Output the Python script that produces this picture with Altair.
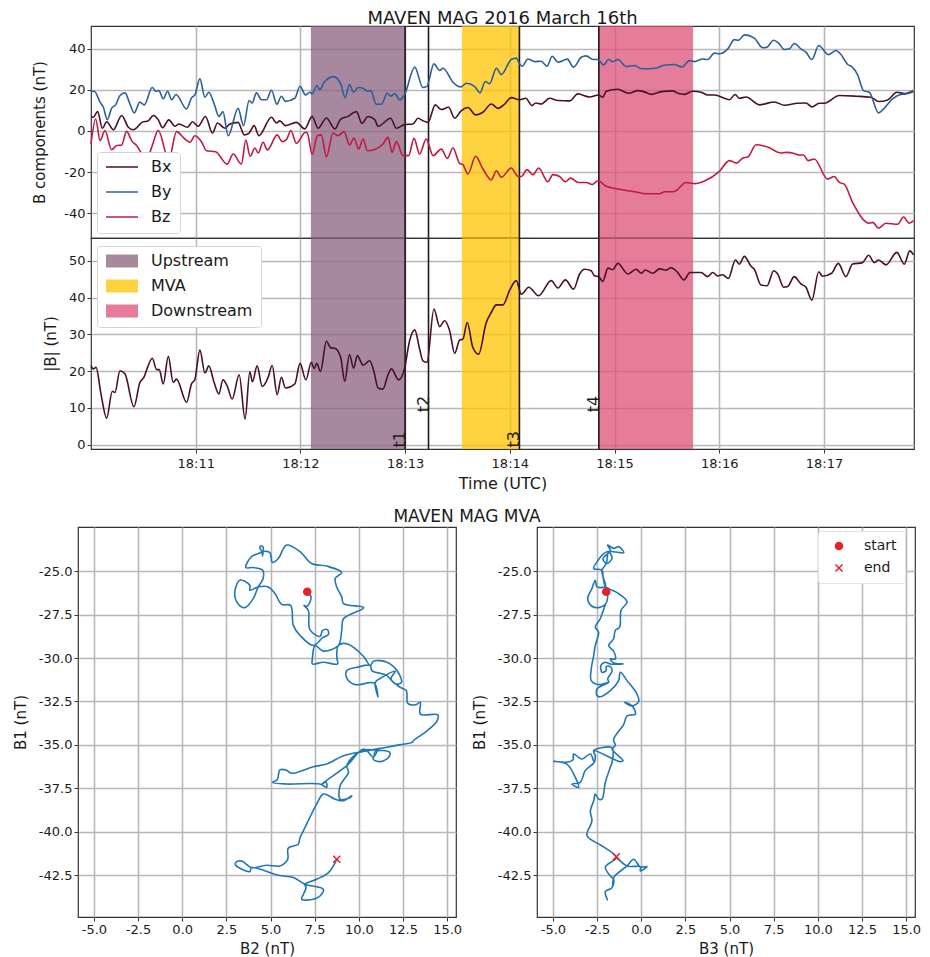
import altair as alt
import pandas as pd

# ---- magnetometer series: seconds after 18:10:00, value in nT
t_by = [0,1.9,5.2,7.1,9.3,11.8,14.1,16.6,19.5,22.3,24.8,28,30.5,35.1,37.2,38.9,41.4,43.9,46.2,48.7,54.8,57.6,59.5,62.4,65.3,67.5,70.6,73.3,75.6,78.6,84.3,87.4,90.6,92.3,94.8,97.7,100.6,103.4,106.5,109.1,111.4,116.8,119.8,122.9,125.4,126.7,129.4,131.1,133.9,139.1,143.1,145.6,148.1,150.5,153,155.9,158.4,160.3,163.5,166.4,169.8,171.7,174,176.9,179.7,185.5,190.2,192.5,196.5,199.8,201.7,207.4,210.3,212.2,215,219.8,222.9,225.9,228.4,232.3,235.1,240.8,243.7,245.6,247,250.4,254.2,258,261.3,264.3,267.6,272.9,276.5,280.9,283.8,287.6,290.5,293.7,296.6,299,301.9,306.7,311.4,315.6,323.8,327.7,334.3,338.7,342.9,345.8,350.6,353.4,357.2,360.1,364.9,368.7,371,374.4,380.1,384.9,387.2,391.2,393.9,397.3,400.2,403,406.8,409.7,413.1,417,422.5,426.9,429.4,433.6,435.9,439.3,442.7,446,451.3,454.2,459.3,463.1,466.9,471.3]
v_by = [19.1,19.3,14,11.5,5.5,11,12.7,17.2,18.5,13.1,8.8,14,12.7,21.1,19.3,19.6,15.6,19.3,15.2,17.7,10.7,16.1,17.5,25.3,16.4,18.8,13.1,7.1,9.4,-2.3,11,2.6,14.8,13.6,18.5,15.2,15.2,19.8,13,16.9,14.4,15.9,21.7,17.5,18.8,18,22.1,20.1,24,26.4,22.9,16.2,22.5,18.8,21.1,20.8,19.3,19.6,13,13,18.3,16.9,18.2,15.1,17.7,31,21.1,21.7,32.6,29.4,30.5,23.7,21.7,21.4,23.2,21.7,18.5,24,23,30.5,27.4,34.7,35.4,32.6,31.5,35,33.7,33.9,31.5,36.3,33.4,34.9,31,35.8,36.5,34.7,34.7,32.1,34.7,33.7,34.7,31.3,31.8,30.2,30.5,31.8,32.3,31.1,34.2,33.7,35,34.7,37.8,37.5,39.9,44.4,44,46.7,45.1,40.4,40.6,44.1,42.8,39.6,39.9,42.5,39.9,38.3,34.7,41.5,37.1,39.1,37.5,32.3,31.3,27.3,19.6,18.8,8.8,10.7,15.6,17.5,18,19.1]

t_bx = [0,1.3,3.8,6.5,9,12.8,17.6,21.4,24.2,30,32.4,35.7,38.5,41,44.6,48.1,50.4,55.3,58.2,61.4,65.6,69.6,72.5,76.7,79.6,84.3,87.8,90.6,93.5,96.2,103.4,106.3,108.2,111.4,117.7,122.5,126.7,130.1,134.9,139.7,143.1,147.3,152.1,155.3,158.7,162.6,164.5,171.7,175,179.7,184.5,187.4,190.2,193.1,197.3,200.7,204.9,208.4,212.2,216,220.4,224.6,229.4,233.2,237,240.8,245.6,249.1,252.7,254.8,258,262.8,267.6,274.2,279,285.7,290.8,293.3,295.2,301.9,308,313.4,317.2,321,326.7,333.4,336.2,340.1,344.8,349.6,353.4,357.2,365.8,369.1,371.5,375.4,383,391.6,397.3,404.9,409.7,413.1,417.3,420.2,428.8,438.3,446.9,451.3,456.5,461.8,466,471.3]
v_bx = [7.1,6.7,9.4,1.3,4.5,0.6,7.5,1.8,0.6,4.5,4.7,7.5,5.5,1.6,5.4,2.3,3.4,1.8,4.5,2.3,7,-1,3.9,1.3,3.4,4.2,-1.9,-1,2.6,-2.3,6.7,3.9,4.9,2.6,4.2,1,7.1,1.3,6.3,1,5.8,7.1,9.4,3.7,7,5.5,2.3,6.2,1.3,3.1,3.4,6.2,5,4.2,12.7,10.4,11.5,6.2,9.9,11.4,7.8,9.1,13.1,11,13.1,16.2,15.2,15.9,12.3,13.6,13.1,15.9,14.8,14.6,18,16.5,17.5,16.4,19.3,20.3,18.3,19.6,19,17.8,19.1,19.5,18.3,17.8,19.3,18.8,17.5,17.5,15.2,17.7,15.9,16.5,12.7,14.1,12.5,13.5,13.6,11.7,13.5,13.5,17.2,16.9,16.4,14.3,15.1,18.8,18.2,19.6]

t_bz = [0,2.7,5.2,8,11.8,14.7,17.6,20.4,23.3,26.1,31.9,35.1,38.5,44.6,49,53.8,56.7,59.5,63.3,66.2,71.4,78,81.5,86.2,88.7,91.2,93.9,95.8,98.6,101.1,106.7,109.5,112,114.5,117.7,122.9,124,126.7,129.7,132,134.9,138.7,141.6,145,148.2,150.7,153.4,155.9,158.4,162.2,167.3,170.2,172.5,175,178.8,182,185.1,188.3,192.1,196,200.7,204.2,207.4,211.2,213.1,216,220.4,224.6,229.4,232.3,235.1,240.8,244.7,246.6,249.8,253.3,256.5,261.8,264.7,268.5,271.8,274.8,279.4,283.8,287.2,290.5,295.2,301.9,311.4,318.1,325.8,328.6,334,341,345.8,351.5,360.1,365.8,370,373.5,376.3,381.1,387.8,395.4,398.3,403,405.9,408.2,411,414.5,422.1,425.9,428.8,431.6,436.4,446,447.9,451.3,455.5,462.2,465.6,468.9,471.3]
v_bz = [-6.3,5.8,-4.7,0.2,-9.1,-7.1,-6.8,-0.2,-4.7,-7.1,-13.6,-7.1,0.2,-13.9,-0.3,-3.9,-5.5,-2.3,-5.2,-9.6,-10.1,-16.1,-11.2,-16.1,-4.4,-12.3,-8.3,-10.7,-5.5,-9.2,-1.9,-5.2,-4.2,0.2,-6,-0.6,-1,-11.4,-2.3,-1.9,-12.5,-1,-2.3,-0.3,-6.8,-3.4,-8.8,-3.9,-9.6,-9.1,-6.3,-3.1,-10.4,-5.2,-12,-12,-3.6,-11.2,-3.9,-12,-8.8,-13.3,-8.3,-15.7,-16.4,-20.9,-12.3,-18.5,-23.8,-19.3,-22.5,-18,-22.1,-22.1,-18.8,-21.2,-18,-24.7,-21.2,-22.1,-24.7,-22.9,-25,-25,-26,-24.2,-26.9,-28.2,-29.5,-30.5,-30.5,-29.5,-29.5,-25,-25.6,-24.3,-19.6,-14.4,-15.6,-13.1,-12.7,-6.7,-7.8,-10.7,-10.4,-10.9,-11.7,-11.7,-14.4,-13.6,-23.4,-22.1,-25,-25.8,-34.7,-44.8,-44.4,-47.2,-44.8,-45.3,-41.8,-44.8,-43.6]

t_b = [0,1.3,2.9,5.7,9,12.2,13.7,16.6,19.5,24.6,28,30.3,32.4,35.1,37.6,39.1,41.4,44.3,47.1,49,54.8,57.6,59.5,62.4,65.3,67.5,70.6,73.3,75.6,78,80.9,84.9,88.3,91,92.5,95.2,98.1,101.5,103.8,106.7,109.1,111.4,116.8,119.8,123.1,126.3,127.8,129.4,131.5,134.9,137.4,139.7,143.1,145.4,148.1,150.5,152.6,155.9,159.7,162,164.5,167.3,170.2,172.1,176.3,179.7,182.6,185.5,188.3,190.2,192.5,196.5,199.8,202.6,205.5,208.4,211.2,213.1,215.6,218.8,222.1,226.5,229.4,232.3,236.1,239.9,243.7,246.6,250.8,256.5,263.7,267.6,271.8,276.5,280,282.8,286.6,288.5,290.8,293.3,296.2,299,301.9,307.6,312.4,315.3,317.6,321.9,325.8,329.6,332.4,336.2,339.7,343.3,349.6,353.4,356.3,359.1,362,365.2,369.3,371.5,374.4,378.2,380.1,383.9,387.4,391.2,393.5,396.9,399.2,403,406.8,409.7,413.1,417,419.2,424.4,428.2,432.6,436.4,442.1,445.6,448.8,451.3,455.5,461.8,466,469.2,471.3]
v_b = [21.5,20.6,21,13.8,7.2,14.5,14.2,20.1,19.2,10.3,16.9,18.3,21,23.5,20.4,20.4,16.5,24,16.9,17.8,11.5,16.5,17.7,25.7,19.5,21.4,16.8,13.8,17.6,16,12.4,19,7,19.8,17.1,21.4,15.8,18.3,21.5,13.6,18.3,15.4,16.5,22.1,17.6,22.4,20.7,22.1,19.9,28.1,26.3,26.2,23.7,17.2,24.5,20.8,24.2,21.6,22.8,20.1,15.4,15.1,19,20.6,17.6,20.8,28.3,31.2,26,22.8,22.4,36.9,32.1,33.7,31,24.8,28.4,28.7,33.2,26.4,24.6,33.2,36,38,38,42,44.6,40.9,42.8,40.5,44.6,42.6,44.8,42.3,46.4,47.7,47.3,45.9,45.7,44.4,48,47.6,49.3,46.4,47.7,46.6,47.5,46.6,47.8,47.5,48.1,46.8,44.8,46.8,46.8,45.7,46.8,45.9,46.2,45.2,50.2,49.1,51.2,48.5,47.7,43.4,43.2,47.3,46.4,42.8,43,45.7,43.7,42.8,39.3,47,45.8,46.6,49.3,45.7,49.1,49.5,51.5,49.5,50.2,48.9,52.3,49.1,52.7,51.6]

# ---- minimum variance hodograms
b2 = [7.08,7.29,7.08,6.89,7.14,7.23,7.8,7.95,8.22,8.28,7.95,7.42,6.67,6.29,6.14,5.63,5.25,4.87,4.3,3.83,3.83,3.26,2.97,3.16,3.54,4.02,4.3,4.58,4.55,4.02,3.6,3.92,4.49,4.39,4.51,4.58,4.55,4.55,4.96,5.11,5.44,5.91,6.67,7.33,8.18,9.03,8.66,8.75,9.03,9.13,10.27,9.13,9.03,8.84,7.99,7.52,7.37,7.37,7.99,8.79,8.75,8.84,9.32,10.27,10.64,10.83,11.59,12.16,12.41,12.06,11.59,10.74,10.64,9.89,9.32,9.32,9.79,10.87,11.08,10.93,11.31,12.06,11.82,12.35,12.69,12.77,13.2,13.48,13.48,14.47,14.43,13.86,13.11,13.01,12.35,11.59,10.27,9.13,8.18,7.42,6.19,5.87,5.53,5.38,5.11,5.91,7.8,8.18,8.14,7.9,9.32,10.27,10.83,10.93,11.74,11.69,11.21,10.8,11.02,10.27,9.89,9.32,9.41,8.94,8.94,9.51,9.6,9.13,8.66,7.99,7.61,6.86,6.67,6.57,6,5.97,5.53,4.77,3.92,3.35,3.03,3.03,3.83,3.92,5.44,6.29,6.95,7.99,7.8,7.42,6.76,6.86,7.01,6.95,7.61,8.28,8.75]
b1_left = [-26.19,-26.48,-27.02,-26.97,-27.25,-28.37,-28.76,-28.41,-28.37,-28.64,-28.83,-29.28,-28.7,-28.12,-26.97,-26.91,-26.29,-25.91,-25.91,-26.1,-25.81,-25.52,-26.29,-26.87,-27.1,-26.58,-25.91,-25.42,-24.94,-24.79,-24.79,-24.17,-23.88,-23.63,-23.55,-23.63,-24.13,-23.88,-23.94,-24.5,-24.27,-23.5,-23.88,-24.56,-24.71,-25.08,-25.42,-25.91,-26.48,-26.87,-27.1,-27.74,-28.41,-29.28,-29.6,-29.28,-30.05,-30.34,-30.24,-30.34,-29.95,-29.28,-29.18,-29.91,-30.43,-30.18,-30.24,-30.72,-31.4,-31.49,-31.01,-30.72,-30.43,-30.53,-30.72,-31.15,-31.53,-31.44,-32.23,-31.4,-31.11,-30.76,-31.2,-31.69,-31.88,-32.61,-32.69,-32.55,-33.23,-33.27,-33.61,-34.19,-34.73,-34.85,-34.98,-35.13,-35.37,-35.62,-36.1,-36.25,-36.63,-36.44,-36.44,-37,-37.15,-37.25,-37.25,-37.44,-37.15,-37.25,-36.19,-35.23,-35.71,-35.37,-35.42,-35.71,-35.96,-35.81,-35.37,-35.29,-35.48,-36.19,-36.58,-37.35,-38.12,-38.02,-37.92,-38.21,-38.12,-37.83,-38.4,-39.94,-40.33,-40.71,-40.94,-41.58,-41.96,-41.92,-42.06,-41.67,-41.77,-41.92,-42.29,-42.06,-42.5,-42.63,-43.02,-43.31,-43.69,-43.88,-43.88,-43.6,-43.21,-43.02,-42.73,-42.35,-41.58]
b3 = [-1.98,-1.9,-2.03,-2.41,-2.79,-3.03,-2.79,-2.6,-2.5,-2.03,-2.16,-2.22,-2.69,-2.41,-2.16,-1.84,-1.65,-1.98,-2.16,-1.75,-1.9,-1.56,-1.28,-0.99,-1.56,-1.84,-1.98,-2.22,-2.16,-2.03,-1.28,-0.8,-1.14,-1.22,-1.47,-1.56,-1.84,-1.56,-1.47,-1.75,-1.56,-1.03,-1.75,-2.03,-2.28,-2.22,-1.98,-1.98,-1.75,-1.65,-1.9,-1.84,-2.41,-2.83,-2.83,-2.69,-2.6,-2.41,-2.6,-2.32,-2.03,-2.32,-2.6,-2.41,-2.6,-2.69,-2.83,-2.83,-2.41,-1.84,-2.5,-2.5,-2.32,-1.75,-1.28,-1.18,-0.8,-0.24,-0.14,-0.52,-0.95,-0.52,-0.33,-0.8,-0.99,-1.56,-1.47,-1.65,-1.03,-1.18,-2.69,-2.6,-2.66,-2.88,-3.36,-3.83,-3.87,-4.3,-4.96,-4.21,-3.73,-3.54,-3.92,-3.45,-3.17,-2.66,-2.6,-2.69,-1.65,-1.65,-1.75,-2.03,-2.22,-2.41,-2.6,-2.69,-2.88,-2.79,-3.07,-2.22,-1.41,-2.03,-1.75,-1.56,-1.65,-2.03,-1.9,-2.03,-1.65,-1.56,-0.8,-0.43,-0.05,0.33,-0.05,-0.05,-0.8,-1.41]
b1_right = [-26.19,-26.39,-26.91,-27.1,-27.02,-26.58,-26,-25.52,-25.91,-25.87,-25.33,-24.94,-24.85,-24.33,-24.02,-23.88,-24.27,-24.56,-24.27,-23.82,-23.5,-23.69,-23.59,-23.94,-23.88,-23.88,-24.56,-24.94,-25.33,-25.87,-26.29,-26.77,-27.25,-28.22,-28.41,-28.89,-29.28,-29.61,-30.05,-30.05,-30.28,-30.34,-30.34,-30.24,-30.43,-30.82,-30.72,-30.49,-30.49,-30.76,-31.2,-31.4,-31.53,-31.3,-30.63,-29.86,-29.28,-28.51,-28.22,-27.74,-26.91,-27.74,-28.22,-28.51,-29.28,-29.86,-30.63,-31.3,-31.53,-31.4,-31.78,-32.17,-32.23,-31.88,-31.3,-30.82,-31.3,-32.07,-32.5,-32.75,-32.55,-32.75,-33.23,-33.32,-33.81,-34.67,-35.04,-35.23,-35.9,-35.96,-35.33,-35.62,-36,-35.52,-35.81,-35.52,-35.87,-36,-35.94,-36.1,-36.87,-37.44,-37.25,-37.15,-36.48,-36,-35.62,-35.33,-35.17,-36,-36.29,-37.15,-38.12,-38.12,-37.83,-38.21,-38.79,-39.37,-40.23,-40.81,-41.48,-42.02,-42.54,-42.73,-43.21,-43.44,-43.94,-43.44,-43.21,-42.63,-41.96,-41.58,-42.02,-42,-42.25,-42.02,-41.96,-41.44]

regions = ["Upstream", "MVA", "Downstream"]
region_start = [126, 212.5, 291]
region_end = [180, 245.5, 345]
region_colors = ["#8B607E", "#FEC300", "#DB5078"]
marker_names = ["t1", "t2", "t3", "t4"]
marker_times = [180, 193.4, 245.5, 291]
marker_levels = [-0.8, 8.8, -0.8, 8.8]
time_ticks = [60, 120, 180, 240, 300, 360, 420]
series_names = ["Bx", "By", "Bz"]
series_colors = ["#4A0F2A", "#2A6099", "#C01A40"]

TXT = "#1a1a1a"
FONT = "DejaVu Sans"
XDOM = [0, 471.6]
HYPHEN = "replace(format(datum.value, '{f}'), '\u2212', '-')"

regions_df = pd.DataFrame({"region": regions, "start": region_start, "end": region_end})
markers_df = pd.DataFrame({"name": marker_names, "t": marker_times, "level": marker_levels})
comp_df = pd.concat([
    pd.DataFrame({"t": t_bx, "v": v_bx, "s": "Bx"}),
    pd.DataFrame({"t": t_by, "v": v_by, "s": "By"}),
    pd.DataFrame({"t": t_bz, "v": v_bz, "s": "Bz"}),
])
mag_df = pd.DataFrame({"t": t_b, "v": v_b})


def xenc(show):
    return alt.X("start:Q", scale=alt.Scale(domain=XDOM, nice=False, zero=False),
                 axis=alt.Axis(values=time_ticks, title="Time (UTC)" if show else None,
                               labels=show, ticks=show, titleFontSize=16, titlePadding=5,
                               labelPadding=4,
                               labelExpr="'18:' + (10 + datum.value / 60)"))


def legend_common(**kw):
    return alt.Legend(title=None, orient="none", fillColor="#ffffff", strokeColor="#d5d5d5",
                      cornerRadius=3, padding=8, labelFontSize=16, labelColor=TXT, labelFont=FONT,
                      clipHeight=14, rowPadding=9, labelOffset=12, columnPadding=0, **kw)


def shading(legend):
    enc = alt.Color("region:N", scale=alt.Scale(domain=regions, range=region_colors),
                    legend=legend)
    return alt.Chart(regions_df).mark_rect(opacity=0.75).encode(
        x=xenc(False) if legend is None else xenc(True), x2="end:Q", color=enc)


def rules():
    return alt.Chart(markers_df).mark_rule(color="#1a1a1a", strokeWidth=1.6).encode(x="t:Q")


top_lines = alt.Chart(comp_df).mark_line(strokeWidth=1.6, interpolate="monotone").encode(
    x="t:Q",
    y=alt.Y("v:Q", scale=alt.Scale(domain=[-52, 51], nice=False),
            axis=alt.Axis(values=[-40, -20, 0, 20, 40], title="B components (nT)",
                          titlePadding=16, labelExpr=HYPHEN.format(f="d"))),
    color=alt.Color("s:N", scale=alt.Scale(domain=series_names, range=series_colors),
                    legend=legend_common(legendX=6, legendY=126, symbolType="stroke",
                                         symbolSize=1024, symbolStrokeWidth=1.6)),
)
top = alt.layer(shading(None), rules(), top_lines).resolve_scale(color="independent").properties(
    width=823, height=212,
    title=alt.TitleParams("MAVEN MAG 2016 March 16th", fontSize=18, fontWeight="normal",
                          font=FONT, color=TXT, anchor="middle", offset=-3))

bot_line = alt.Chart(mag_df).mark_line(strokeWidth=1.6, interpolate="monotone", color=series_colors[0]).encode(
    x="t:Q",
    y=alt.Y("v:Q", scale=alt.Scale(domain=[-1.2, 56.2], nice=False),
            axis=alt.Axis(values=[0, 10, 20, 30, 40, 50], title="|B| (nT)", titlePadding=10)),
)
labels_t = alt.Chart(markers_df).mark_text(angle=270, align="left", baseline="alphabetic", fontSize=16,
                                           font=FONT, color=TXT).encode(
    x="t:Q", y="level:Q", text="name:N")
bottom = alt.layer(
    shading(legend_common(legendX=6, legendY=8, symbolType="M-1,-0.4H1V0.4H-1Z", symbolSize=1024)),
    rules(), bot_line, labels_t,
).properties(width=823, height=211)

panels = alt.vconcat(top, bottom, spacing=0, bounds="flush").resolve_scale(color="independent")

# an empty, invisible view that moves the two time panels to the right of the hodograms
spacer = alt.Chart(pd.DataFrame({"a": [0]})).mark_point(opacity=0).encode(
    x=alt.value(0)).properties(width=1, height=1, view=alt.ViewConfig(stroke=None))
upper = alt.hconcat(spacer, panels, spacing=12, bounds="flush").resolve_scale(color="independent")

# ---- hodograms
XHOD = [-5.9, 15.5]
YHOD = [-44.9, -22.46]
x_ticks = [-5, -2.5, 0, 2.5, 5, 7.5, 10, 12.5, 15]
y_ticks = [-42.5, -40, -37.5, -35, -32.5, -30, -27.5, -25]
start_end = ["start", "end"]


def hodogram(xs, ys, name, show_legend):
    df = pd.DataFrame({"x": xs, "y": ys, "i": range(len(xs))})
    ends = pd.DataFrame({"x": [xs[0], xs[-1]], "y": [ys[0], ys[-1]], "kind": start_end})
    x = alt.X("x:Q", scale=alt.Scale(domain=XHOD, nice=False, zero=False),
              axis=alt.Axis(values=x_ticks, title=f"{name} (nT)", titlePadding=5,
                            labelExpr=HYPHEN.format(f=".1f")))
    y = alt.Y("y:Q", scale=alt.Scale(domain=YHOD, nice=False, zero=False),
              axis=alt.Axis(values=y_ticks, title="B1 (nT)", titlePadding=10,
                            labelExpr=HYPHEN.format(f=".1f")))
    line = alt.Chart(df).mark_line(color="#1f77b4", strokeWidth=1.6, interpolate="catmull-rom").encode(
        x=x, y=y, order="i:Q")
    legend = alt.Legend(title=None, orient="none", legendX=281, legendY=4, fillColor="#ffffff",
                        strokeColor="#e2e2e2", cornerRadius=3, padding=8, labelFontSize=14,
                        labelColor=TXT, labelFont=FONT, rowPadding=8, symbolSize=50,
                        labelOffset=18, symbolOffset=6, clipHeight=14) if show_legend else None
    pts = alt.Chart(ends).mark_point(filled=True, stroke="#e8212b", strokeWidth=1.5, opacity=1).encode(
        x="x:Q", y="y:Q",
        shape=alt.Shape("kind:N", scale=alt.Scale(domain=start_end,
                                                  range=["circle", "M-1,-1L1,1M-1,1L1,-1"]), legend=legend),
        color=alt.Color("kind:N", scale=alt.Scale(domain=start_end, range=["#e8212b", "#e8212b"]), legend=legend),
        size=alt.value(50))
    return alt.layer(line, pts).properties(width=378, height=390)


row = alt.hconcat(hodogram(b2, b1_left, "B2", False), hodogram(b3, b1_right, "B3", True), spacing=81,
                  bounds="flush",
                  title=alt.TitleParams("MAVEN MAG MVA", fontSize=17, fontWeight="normal", font=FONT,
                                        color=TXT, anchor="middle", offset=0)
                  ).resolve_scale(color="independent", shape="independent")

chart = alt.vconcat(upper, row, spacing=16).resolve_scale(color="independent", shape="independent").configure_view(
    stroke="#333333", strokeWidth=1.2
).configure_axis(
    labelFont=FONT, titleFont=FONT, labelFontSize=13, titleFontSize=15, titleFontWeight="normal",
    labelColor=TXT, titleColor=TXT, gridColor="#b8b8b8", gridWidth=1.6, tickColor="#333333",
    domain=False, grid=True, tickSize=4,
).properties(padding={"left": 4, "top": 1, "right": 0, "bottom": 0}, background="white")

chart.save("out.html", embed_options={"renderer": "svg", "actions": False})
